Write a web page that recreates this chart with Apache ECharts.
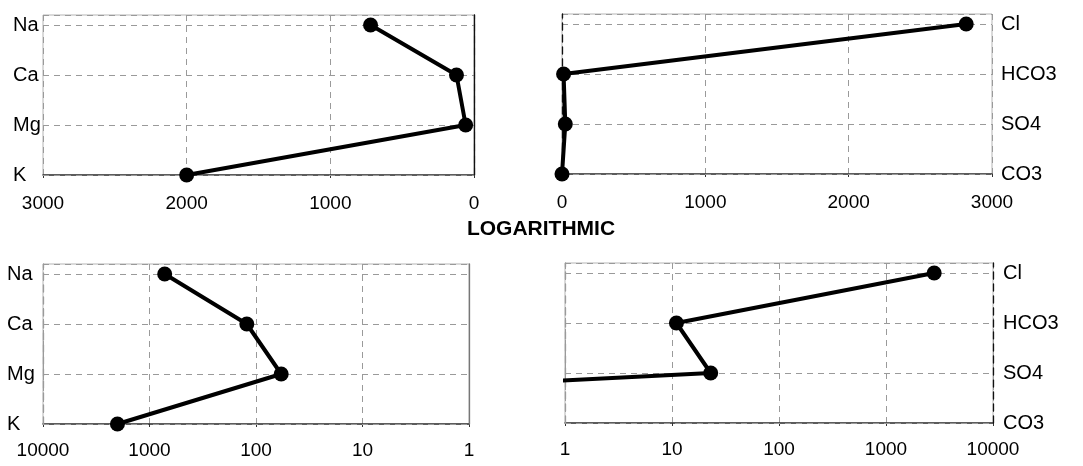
<!DOCTYPE html>
<html>
<head>
<meta charset="utf-8">
<script src="https://cdn.jsdelivr.net/npm/echarts@6/dist/echarts.min.js"></script>
<style>
  html, body { margin: 0; padding: 0; background: #fff; }
  #chart { width: 1083px; height: 466px; }
</style>
</head>
<body>
<div id="chart"></div>
<script>
// cations (left panels), anions (right panels), top to bottom
var cations = ['Na', 'Ca', 'Mg', 'K']
var anions = ['Cl', 'HCO3', 'SO4', 'CO3']
var cationValues = [720, 122, 58, 2000]
var anionValues = [2820, 11, 23, 0]
// CO3 is zero, a log axis can't show it: the line just runs off the left edge
var anionLogValues = [2820, 11, 23, 2e-8]

var linearTicks = [0, 1000, 2000, 3000]
var logTicks = [1, 10, 100, 1000, 10000]

var chart = echarts.init(document.getElementById('chart'))

var font = 'Liberation Sans, Arial, sans-serif'
var dash = { type: [6, 5], color: '#9a9a9a', width: 1 }

function rows(values) {
  // top row sits at y = 3, bottom row at y = 0
  return values.map(function(v, i) { return [v, values.length - 1 - i] })
}

function rowLabel(names) {
  return function(v) {
    if (Math.abs(v - Math.round(v)) > 1e-6) return ''
    return names[names.length - 1 - Math.round(v)] || ''
  }
}

function yLabelAxis(grid, names, side, margin, lineColor) {
  return {
    gridIndex: grid,
    type: 'value',
    min: 0,
    max: 3.2,
    interval: 1,
    position: side,
    axisLine: { show: true, lineStyle: { color: lineColor, type: [7, 5], width: 1.3 } },
    axisTick: { show: false },
    axisLabel: {
      formatter: rowLabel(names),
      align: 'left',
      margin: margin,
      color: '#000',
      fontFamily: font,
      fontSize: 20
    },
    splitLine: { show: true, lineStyle: dash },
    z: 3
  }
}

function yEdgeAxis(grid, side, color, type) {
  return {
    gridIndex: grid,
    type: 'value',
    min: 0,
    max: 3.2,
    interval: 1,
    position: side,
    axisLine: { show: true, lineStyle: { color: color, width: 1.3, type: type } },
    axisTick: { show: false },
    axisLabel: { show: false },
    splitLine: { show: false },
    z: 3
  }
}

function xAxis(grid, kind, inverse, margin) {
  var ax = {
    gridIndex: grid,
    type: kind,
    inverse: inverse,
    min: kind === 'log' ? logTicks[0] : linearTicks[0],
    max: kind === 'log' ? logTicks[logTicks.length - 1] : linearTicks[linearTicks.length - 1],
    axisLine: { show: true, onZero: false, lineStyle: { color: '#333', width: 1.5 } },
    axisTick: { show: true, length: 3, lineStyle: { color: '#333' } },
    axisLabel: {
      margin: margin,
      color: '#000',
      fontFamily: font,
      fontSize: 19,
      formatter: function(v) { return String(Math.round(v)) }
    },
    splitLine: { show: true, lineStyle: dash }
  }
  if (kind === 'log') ax.logBase = 10
  else ax.interval = 1000
  return ax
}

function line(grid, yIndex, data) {
  return {
    type: 'line',
    xAxisIndex: grid,
    yAxisIndex: yIndex,
    data: data,
    clip: true,
    symbol: 'circle',
    symbolSize: 15,
    itemStyle: { color: '#000' },
    lineStyle: { color: '#000', width: 4 },
    z: 5
  }
}

var gridStyle = { show: true, borderColor: '#b5b5b5', borderWidth: 1, backgroundColor: 'transparent' }

chart.setOption({
  animation: false,
  backgroundColor: '#fff',
  title: {
    text: 'LOGARITHMIC',
    left: 536,
    top: 214,
    textAlign: 'center',
    textStyle: { fontFamily: font, fontSize: 21, fontWeight: 'bold', color: '#000' }
  },
  grid: [
    Object.assign({ left: 43, top: 15, width: 431, height: 160 }, gridStyle),
    Object.assign({ left: 562, top: 14, width: 430, height: 160 }, gridStyle),
    Object.assign({ left: 43, top: 264, width: 426, height: 160 }, gridStyle),
    Object.assign({ left: 565, top: 263, width: 428, height: 160 }, gridStyle)
  ],
  xAxis: [
    xAxis(0, 'value', true, 19),
    xAxis(1, 'value', false, 19),
    xAxis(2, 'log', true, 17),
    xAxis(3, 'log', false, 17)
  ],
  yAxis: [
    yLabelAxis(0, cations, 'left', 30, '#9a9a9a'),
    yLabelAxis(1, anions, 'right', 9, '#111'),
    yLabelAxis(2, cations, 'left', 36, '#9a9a9a'),
    yLabelAxis(3, anions, 'right', 10, '#111'),
    yEdgeAxis(0, 'right', '#111', 'solid'),
    yEdgeAxis(2, 'right', '#777', 'solid'),
    yEdgeAxis(3, 'left', '#9a9a9a', [7, 5])
  ],
  series: [
    line(0, 0, rows(cationValues)),
    line(1, 1, rows(anionValues)),
    line(2, 2, rows(cationValues)),
    line(3, 3, rows(anionLogValues))
  ]
})
</script>
</body>
</html>
